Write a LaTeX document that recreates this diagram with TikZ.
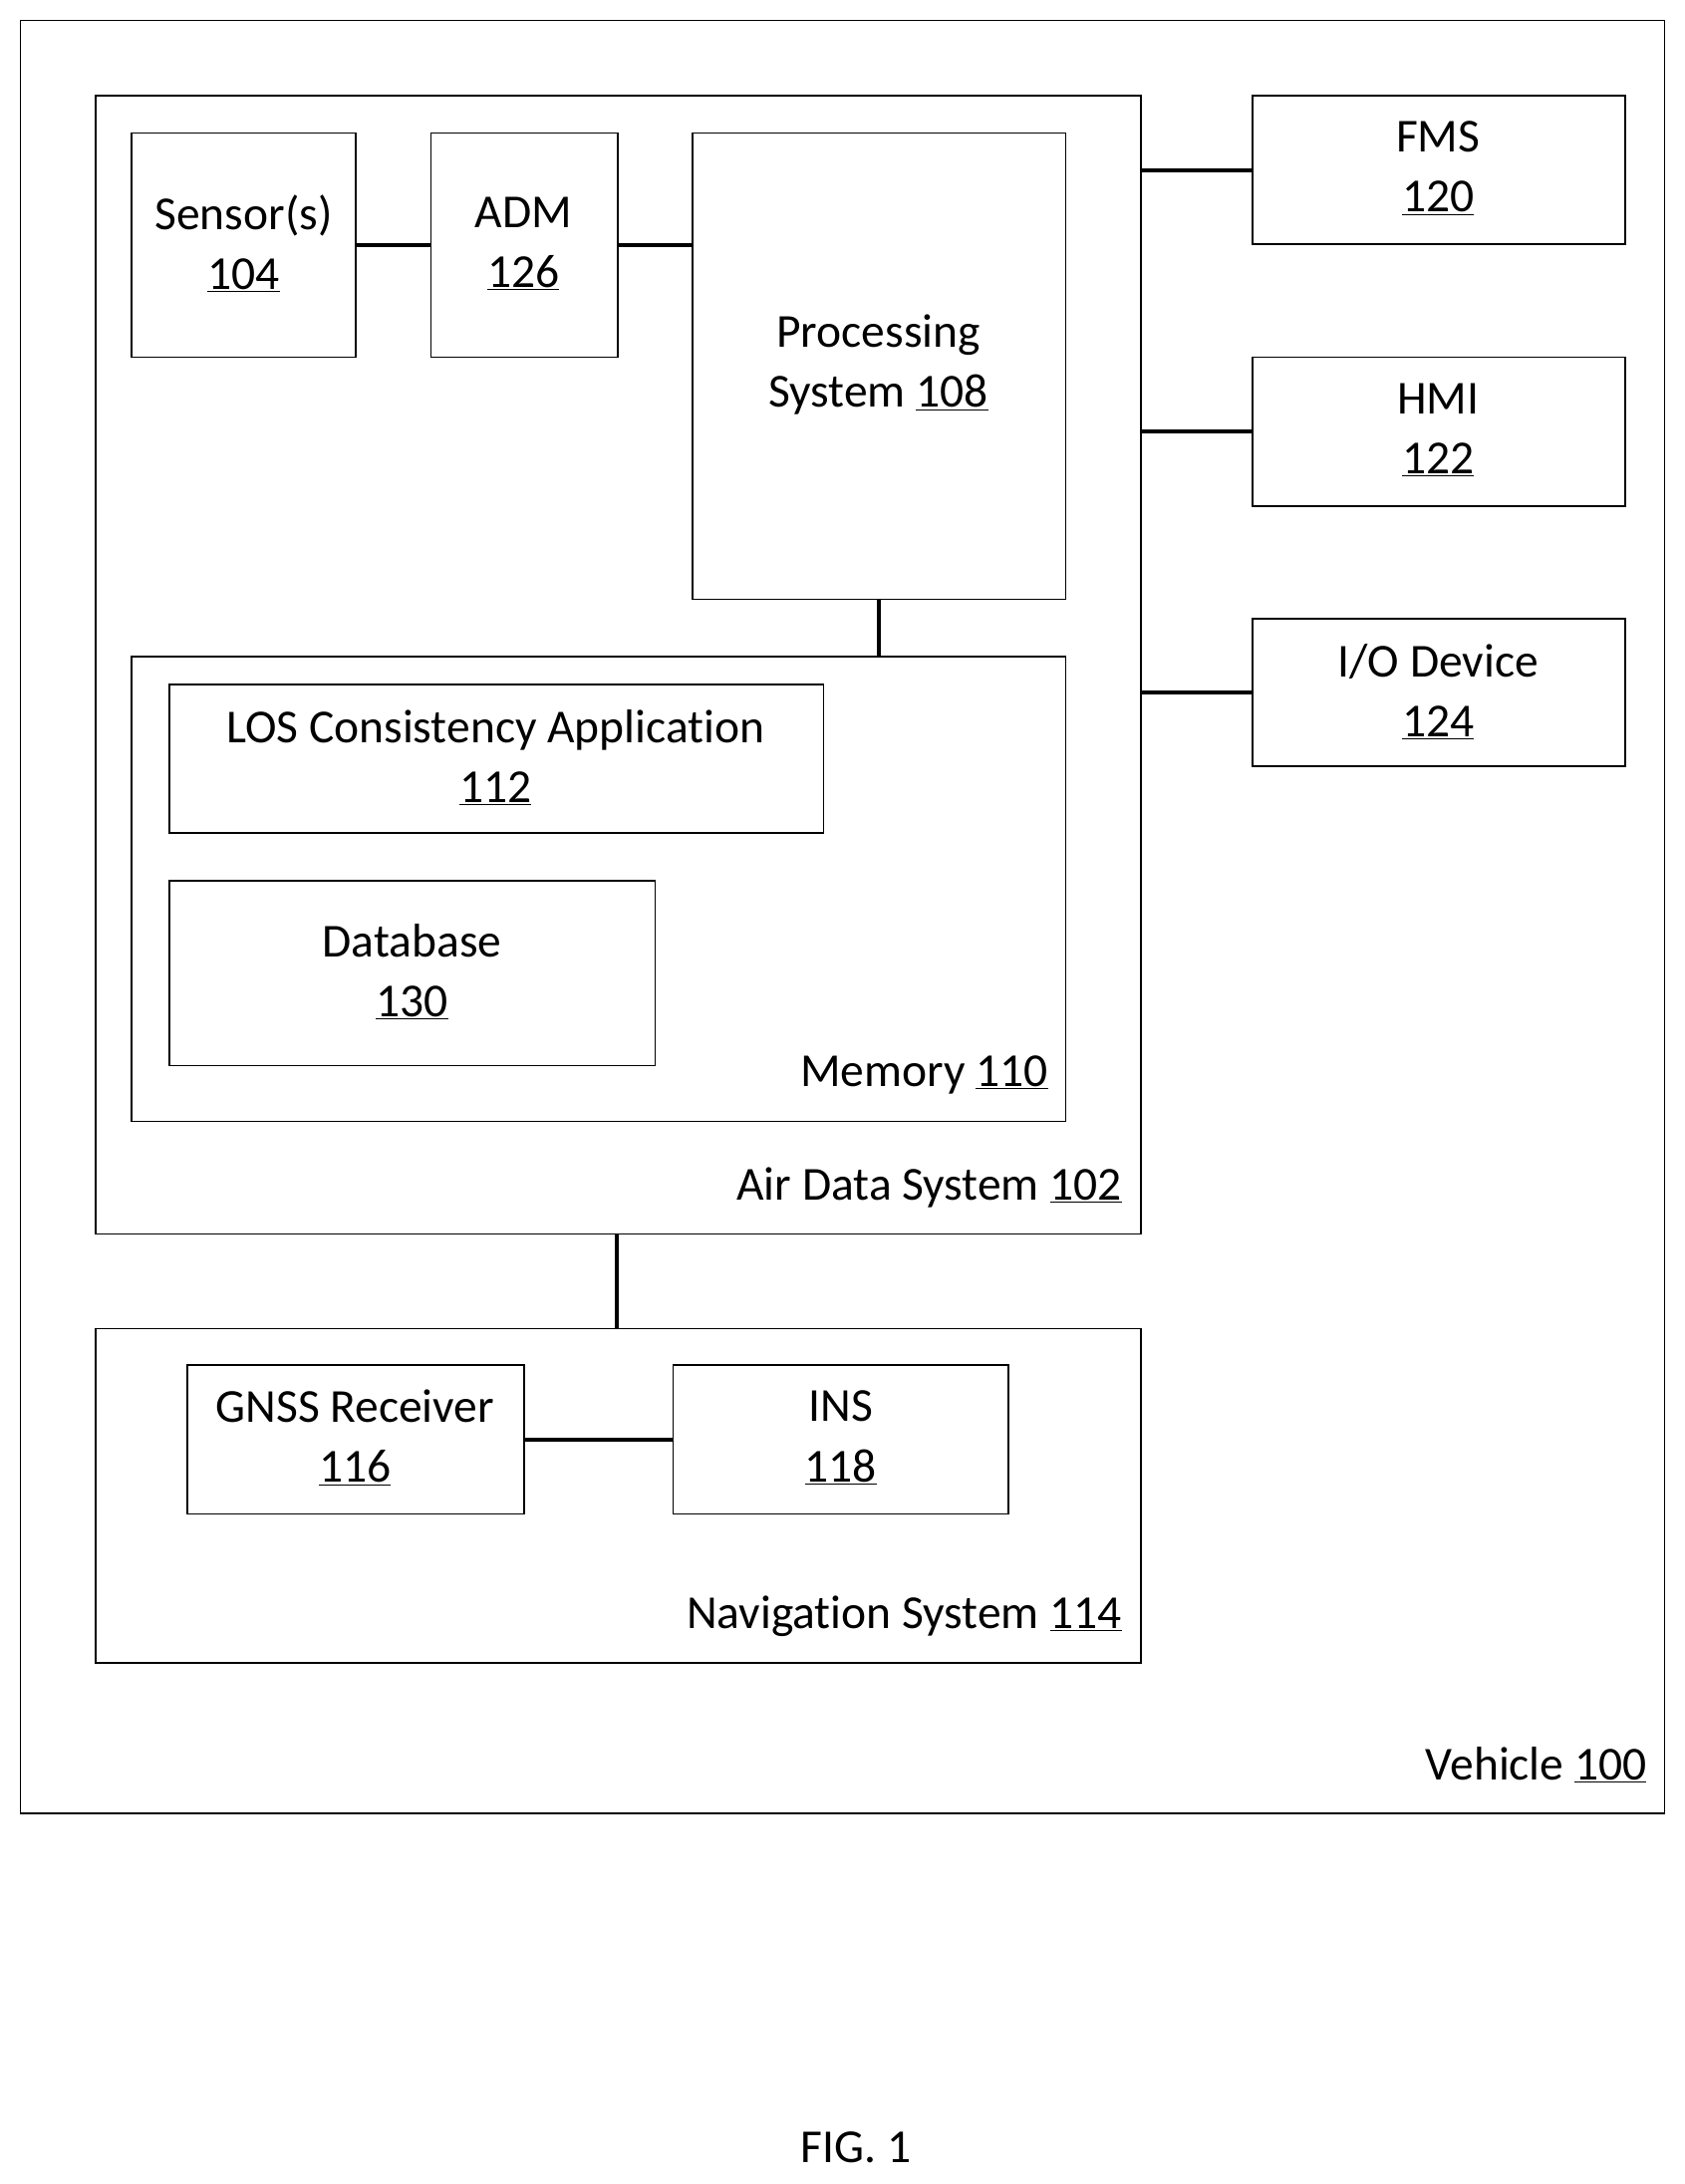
\documentclass[tikz,border=0pt]{standalone}
\usepackage{fontspec}
\setmainfont[Ligatures=NoCommon]{Carlito}
\begin{document}
\begin{tikzpicture}[x=1pt,y=-1pt,
  box/.style={draw,line width=1.2pt,anchor=north west,inner sep=0pt},
  txt/.style={font=\fontsize{34}{43}\selectfont,inner sep=0pt,align=center},
  lab/.style={font=\fontsize{34}{43}\selectfont,inner sep=0pt,anchor=east},
  con/.style={line width=2.8pt}]
\useasboundingbox (0,0) rectangle (1210,1569);
\newcommand{\bx}[5]{\node[box,minimum width=#4-#2,minimum height=#5-#3] (#1) at (#2,#3) {};}
\bx{veh}{14}{14}{1195}{1302}
\bx{air}{68}{68}{819}{886}
\bx{sen}{94}{95}{255}{256}
\bx{adm}{309}{95}{443}{256}
\bx{proc}{497}{95}{765}{430}
\bx{mem}{94}{471}{765}{805}
\bx{los}{121}{491}{591}{598}
\bx{db}{121}{632}{470}{765}
\bx{fms}{899}{68}{1167}{175}
\bx{hmi}{899}{256}{1167}{363}
\bx{io}{899}{444}{1167}{550}
\bx{nav}{68}{954}{819}{1194}
\bx{gnss}{134}{980}{376}{1087}
\bx{ins}{483}{980}{724}{1087}
\node[txt] (tsen) at (175,175) {Sensor(s)\\\underline{104}};
\node[txt] (tadm) at (376,175) {ADM\\\underline{126}};
\node[txt] (tproc) at (631,262) {Processing\\System \underline{108}};
\node[txt] (tlos) at (356,544) {LOS Consistency Application\\\underline{112}};
\node[txt] (tdb) at (296,698) {Database\\\underline{130}};
\node[txt] (tfms) at (1033,121) {FMS\\\underline{120}};
\node[txt] (thmi) at (1033,309) {HMI\\\underline{122}};
\node[txt] (tio) at (1033,497) {I/O Device\\\underline{124}};
\node[txt] (tgnss) at (255,1033) {GNSS Receiver\\\underline{116}};
\node[txt] (tins) at (604,1033) {INS\\\underline{118}};
\node[lab] (lmem) at (753,772) {Memory \underline{110}};
\node[lab] (lair) at (806,853) {Air Data System \underline{102}};
\node[lab] (lnav) at (806,1161) {Navigation System \underline{114}};
\node[lab] (lveh) at (1183,1268) {Vehicle \underline{100}};
\node[txt] (fig) at (615,1543) {FIG. 1};
\draw[con] (sen.east) -- (adm.west);
\draw[con] (adm.east) -- (adm.east -| proc.west);
\draw[con] (proc.south) -- (proc.south |- mem.north);
\draw[con] (fms.west) -- (fms.west -| air.east);
\draw[con] (hmi.west) -- (hmi.west -| air.east);
\draw[con] (io.west) -- (io.west -| air.east);
\draw[con] (443,886) coordinate (a1) -- (443,954) coordinate (a2);
\draw[con] (gnss.east) -- (ins.west);
\end{tikzpicture}
\end{document}
